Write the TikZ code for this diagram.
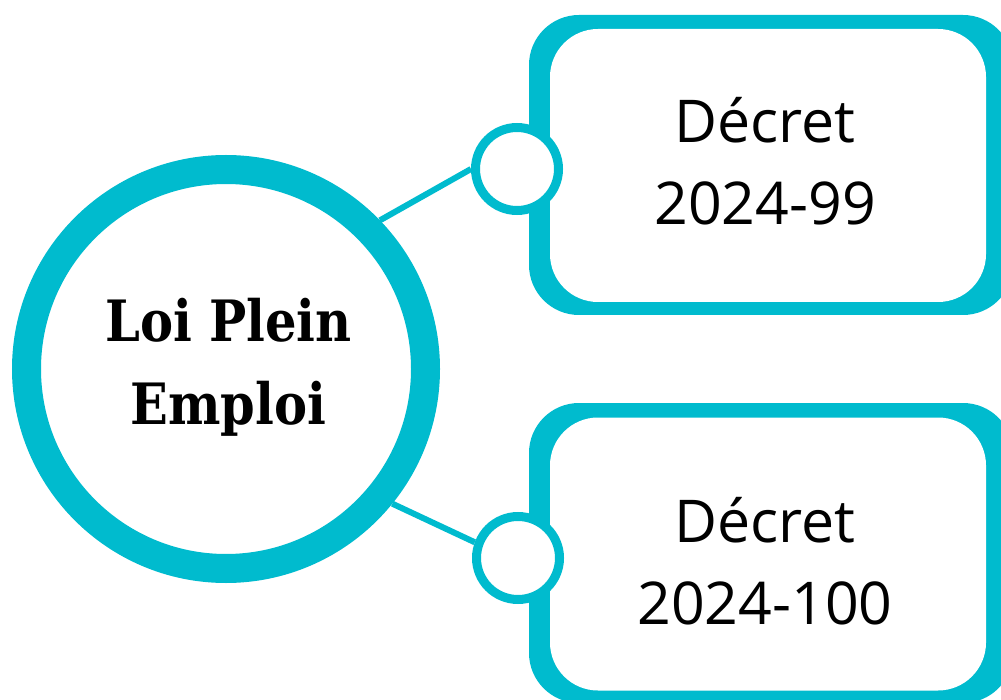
\documentclass[tikz,border=0pt]{standalone}
\usepackage{fontspec}
\setmainfont{Open Sans}
\newfontfamily\slabfont[FakeStretch=0.87]{DejaVu Serif}
\definecolor{teal}{HTML}{00BBCE}
\tikzset{
  knob/.style={circle, draw=teal, fill=white, line width=9pt, minimum size=83pt, inner sep=0pt},
  tagback/.style={rectangle, fill=teal, rounded corners=50pt, minimum width=484pt, minimum height=300pt},
  tagface/.style={rectangle, fill=white, rounded corners=48pt, minimum width=436pt, minimum height=273pt},
  taglabel/.style={anchor=base, align=center, inner sep=0pt, font=\fontsize{59}{82}\selectfont},
}
\begin{document}
\begin{tikzpicture}[x=1pt,y=-1pt]
\useasboundingbox (0,0) rectangle (1001,700);
\node[circle, draw=teal, fill=white, line width=29pt, minimum size=399pt, inner sep=0pt] (hub) at (226,369){};
\node[anchor=base, align=center, inner sep=0pt, font=\slabfont\bfseries\fontsize{57}{82}\selectfont] (hubtext) at (228.5,424){Loi Plein\\Emploi};
\node[tagback] (back0) at (771,165){};
\node[tagface] (dec0) at (768,165.5){};
\node[taglabel] (lbl0) at (765,225){Décret\\2024-99};
\node[knob] (knob0) at (517,169){};
\node[tagback] (back1) at (771,553){};
\node[tagface] (dec1) at (768,554){};
\node[taglabel] (lbl1) at (765,624){Décret\\2024-100};
\node[knob] (knob1) at (518,558){};
\draw[teal, line width=6pt](hub.44) -- (knob0.west);
\draw[teal, line width=6pt](hub.-39) -- (knob1.160);

\end{tikzpicture}
\end{document}
